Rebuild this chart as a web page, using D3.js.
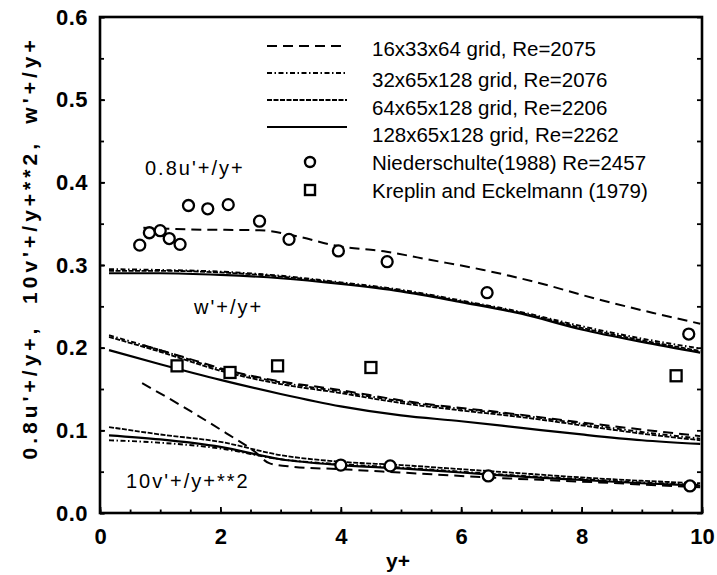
<!DOCTYPE html>
<html><head><meta charset="utf-8">
<script src="https://cdn.jsdelivr.net/npm/d3@7"></script>
<style>body{margin:0;background:#fff}</style>
</head><body>
<svg id="c" width="717" height="575"></svg>
<script>
// ---- data ----
const legendLabels = ["16x33x64 grid, Re=2075","32x65x128 grid, Re=2076","64x65x128 grid, Re=2206","128x65x128 grid, Re=2262","Niederschulte(1988) Re=2457","Kreplin and Eckelmann (1979)"];
const xTicks = [0,2,4,6,8,10];
const yTicks = [0.0,0.1,0.2,0.3,0.4,0.5,0.6];

// 16x33x64 (dashed)
const x16u = [0.72,1.5,2.65,3.32,3.87,4.76,5.5,6.37,7.2,8.3,9.19,9.97];
const u16  = [0.345,0.343,0.342,0.334,0.324,0.316,0.306,0.294,0.280,0.258,0.242,0.229];
const x16w = [0.72,1.28,2.16,2.93,3.87,5.3,6.64,8.29,9.97];
const w16  = [0.203,0.191,0.172,0.160,0.150,0.133,0.122,0.107,0.093];
const x16v = [0.7,1.38,2.1,2.55,2.82,3.2,3.99,4.98,6.45,8.29,9.97];
const v16  = [0.157,0.1286,0.0964,0.0754,0.060,0.056,0.053,0.049,0.043,0.037,0.031];

// common y+ grid for finer runs
const xs = [0.15,1,2,3,4,5,6,7,8,9,9.97];
const u32  = [0.295,0.294,0.292,0.287,0.279,0.270,0.257,0.243,0.226,0.211,0.199];
const u64  = [0.293,0.293,0.291,0.286,0.278,0.269,0.256,0.242,0.224,0.209,0.196];
const u128 = [0.290,0.290,0.288,0.284,0.277,0.268,0.255,0.241,0.222,0.207,0.194];
const w32  = [0.215,0.197,0.174,0.158,0.147,0.135,0.126,0.118,0.108,0.098,0.090];
const w64  = [0.213,0.195,0.172,0.156,0.145,0.133,0.124,0.116,0.106,0.096,0.088];
const w128 = [0.197,0.180,0.161,0.144,0.129,0.118,0.111,0.103,0.095,0.088,0.0835];
const v32  = [0.088,0.085,0.078,0.065,0.059,0.055,0.050,0.045,0.041,0.037,0.034];
const v64  = [0.104,0.095,0.086,0.070,0.062,0.058,0.053,0.048,0.043,0.039,0.036];
const v128 = [0.094,0.089,0.080,0.065,0.058,0.054,0.049,0.044,0.040,0.036,0.033];

// experiments
const nieUx = [0.66,0.82,1.0,1.15,1.33,1.47,1.79,2.13,2.65,3.14,3.96,4.77,6.43,9.78];
const nieU  = [0.324,0.339,0.3415,0.332,0.325,0.372,0.368,0.373,0.353,0.331,0.317,0.304,0.2665,0.2165];
const nieVx = [4.0,4.82,6.45,9.8];
const nieV  = [0.058,0.057,0.0448,0.0327];
const krepX = [1.28,2.16,2.95,4.5,9.57];
const krepW = [0.178,0.170,0.178,0.176,0.166];

// ---- drawing ----
const svg = d3.select("#c");
const L=100, R=702, T=17, B=513;
const x = d3.scaleLinear().domain([0,10]).range([L,R]);
const y = d3.scaleLinear().domain([0,0.6]).range([B,T]);

const styles = [
  {dash:"10,6", w:2},
  {dash:"5,2.5,1.5,2.5", w:1.9},
  {dash:"5,1.5", w:1.8},
  {dash:null, w:2.2}
];
const line = d3.line().x(d=>x(d[0])).y(d=>y(d[1])).curve(d3.curveMonotoneX);
const zip = (a,b)=>a.map((v,i)=>[v,b[i]]);

svg.append("clipPath").attr("id","clip").append("rect").attr("x",L).attr("y",T).attr("width",R-L).attr("height",B-T);
const g = svg.append("g").attr("clip-path","url(#clip)");

const curves = [
  [0, zip(x16u,u16)], [0, zip(x16w,w16)], [0, zip(x16v,v16)],
  [1, zip(xs,u32)], [1, zip(xs,w32)], [1, zip(xs,v32)],
  [2, zip(xs,u64)], [2, zip(xs,w64)], [2, zip(xs,v64)],
  [3, zip(xs,u128)], [3, zip(xs,w128)], [3, zip(xs,v128)]
];
curves.forEach(([s,d])=>{
  g.append("path").attr("d",line(d)).attr("fill","none").attr("stroke","#000")
   .attr("stroke-width",styles[s].w).attr("stroke-dasharray",styles[s].dash);
});

const circ = zip(nieUx,nieU).concat(zip(nieVx,nieV));
svg.selectAll("circle.n").data(circ).enter().append("circle")
  .attr("cx",d=>x(d[0])).attr("cy",d=>y(d[1])).attr("r",5.5)
  .attr("fill","#fff").attr("stroke","#000").attr("stroke-width",2.3);
svg.selectAll("rect.k").data(zip(krepX,krepW)).enter().append("rect")
  .attr("x",d=>x(d[0])-5.5).attr("y",d=>y(d[1])-5.5).attr("width",11).attr("height",11)
  .attr("fill","#fff").attr("stroke","#000").attr("stroke-width",2.3);

// axes
const fontB = "'Liberation Sans', Arial, sans-serif";
function styleAxis(sel){
  sel.select(".domain").remove();
  sel.selectAll(".tick line").attr("stroke","#000").attr("stroke-width",1.8);
  sel.selectAll("text").attr("font-family",fontB).attr("font-weight","bold")
     .attr("font-size",22).attr("fill","#000");
}
const minorY = d3.range(0,0.601,0.05).map(v=>+v.toFixed(2));
const minorX = d3.range(0,10.01,0.5).map(v=>+v.toFixed(1));

const ax = svg.append("g").attr("transform",`translate(0,${B})`)
  .call(d3.axisBottom(x).tickValues(xTicks).tickSize(-6).tickPadding(15).tickFormat(d3.format("d")));
styleAxis(ax);
ax.selectAll("text").attr("dy","0.72em");
const axm = svg.append("g").attr("transform",`translate(0,${B})`)
  .call(d3.axisBottom(x).tickValues(minorX).tickSize(-3.5).tickFormat(""));
styleAxis(axm);

const ay = svg.append("g").attr("transform",`translate(${L},0)`)
  .call(d3.axisLeft(y).tickValues(yTicks).tickSize(-5).tickPadding(12).tickFormat(d3.format(".1f")));
styleAxis(ay);
ay.selectAll("text").attr("letter-spacing",0.5);
const aym = svg.append("g").attr("transform",`translate(${L},0)`)
  .call(d3.axisLeft(y).tickValues(minorY).tickSize(-4).tickFormat(""));
styleAxis(aym);
const ayr = svg.append("g").attr("transform",`translate(${R},0)`)
  .call(d3.axisRight(y).tickValues(minorY).tickSize(-5).tickFormat(""));
styleAxis(ayr);

svg.append("rect").attr("x",L).attr("y",T).attr("width",R-L).attr("height",B-T)
  .attr("fill","none").attr("stroke","#000").attr("stroke-width",2.6);

// axis titles
svg.append("text").attr("x",(L+R)/2 - 3).attr("y",568).attr("text-anchor","middle")
  .attr("font-family",fontB).attr("font-weight","bold").attr("font-size",21).text("y+");
const yTitles = [["0.8u'+/y+,",392],["10v'+/y+**2,",222],["w'+/y+",80]];
yTitles.forEach(([t,cy])=>{
  svg.append("text").attr("transform",`translate(37,${cy}) rotate(-90)`).attr("text-anchor","middle")
    .attr("font-family",fontB).attr("font-weight","bold").attr("font-size",21)
    .attr("letter-spacing",4).text(t);
});

// annotations
const ann = [["0.8u'+/y+",145,175],["w'+/y+",194,314],["10v'+/y+**2",126,488]];
ann.forEach(([t,ax0,ay0])=>{
  svg.append("text").attr("x",ax0).attr("y",ay0).attr("font-family",fontB)
    .attr("font-size",20).attr("letter-spacing",2).text(t);
});

// legend
const lineY = [46,73,100,127];
const textY = [48,79,107,134,162,190];
styles.forEach((s,i)=>{
  svg.append("line").attr("x1",267).attr("x2",347).attr("y1",lineY[i]).attr("y2",lineY[i])
    .attr("stroke","#000").attr("stroke-width",s.w).attr("stroke-dasharray",s.dash);
});
svg.append("circle").attr("cx",310).attr("cy",textY[4]).attr("r",5)
  .attr("fill","#fff").attr("stroke","#000").attr("stroke-width",2.4);
svg.append("rect").attr("x",305).attr("y",textY[5]-5).attr("width",10).attr("height",10)
  .attr("fill","#fff").attr("stroke","#000").attr("stroke-width",2.4);
legendLabels.forEach((t,i)=>{
  svg.append("text").attr("x",372).attr("y",textY[i]+7.5).attr("font-family",fontB)
    .attr("font-size",20.5).text(t);
});
</script>
</body></html>
